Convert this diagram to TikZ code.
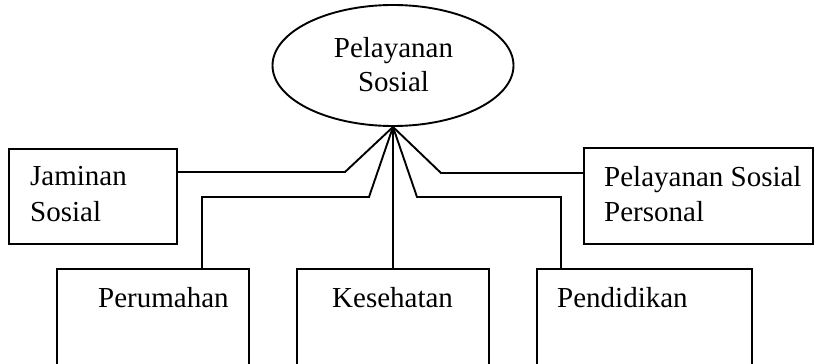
\documentclass[tikz,border=0pt]{standalone}
\usepackage{fontspec}
\setmainfont{Liberation Serif}
\usetikzlibrary{shapes.geometric}
\begin{document}
\begin{tikzpicture}[x=1pt,y=-1pt,
  lw/.style={line width=1.9pt},
  boxnode/.style={draw,lw,rectangle,inner sep=0pt},
  txt/.style={inner sep=0pt,anchor=base west,align=left,font=\fontsize{29}{35}\selectfont},
  conn/.style={draw,lw,line join=miter}]
\useasboundingbox (0,0) rectangle (815,364);
\clip (0,0) rectangle (815,364);
% main ellipse
\node[ellipse,draw,lw,inner sep=0pt,minimum width=241pt,minimum height=121pt] (ps) at (393,65.5) {};
\node[txt,anchor=base,align=center,font=\fontsize{29}{34}\selectfont] (pst) at (393.5,91) {Pelayanan\\Sosial};
% boxes
\node[boxnode,minimum width=168pt,minimum height=95pt] (jam) at (93,196.5) {};
\node[boxnode,minimum width=229pt,minimum height=96pt] (psp) at (698.5,196) {};
\node[boxnode,minimum width=192pt,minimum height=131pt] (per) at (153,334.5) {};
\node[boxnode,minimum width=192pt,minimum height=131pt] (kes) at (393,334.5) {};
\node[boxnode,minimum width=215pt,minimum height=131pt] (pen) at (644.5,334.5) {};
% texts
\node[txt,font=\fontsize{29}{36}\selectfont] (jamt) at (30,221) {Jaminan\\Sosial};
\node[txt] (pspt) at (604,221) {Pelayanan Sosial\\Personal};
\node[txt] (pert) at (98,307) {Perumahan};
\node[txt] (kest) at (332,307) {Kesehatan};
\node[txt] (pent) at (557,307) {Pendidikan};
% bend coordinates
\coordinate (j1) at (345,172);
\coordinate (p1) at (369,197);
\coordinate (p2) at (202,197);
\coordinate (s1) at (441,173);
\coordinate (d1) at (417,197);
\coordinate (d2) at (561,197);
% connectors
\draw[conn] (ps.south) -- (j1) -- (j1 -| jam.east);
\draw[conn] (ps.south) -- (p1) -- (p2) -- (p2 |- per.north);
\draw[conn] (ps.south) -- (kes.north);
\draw[conn] (ps.south) -- (d1) -- (d2) -- (d2 |- pen.north);
\draw[conn] (ps.south) -- (s1) -- (s1 -| psp.west);
\end{tikzpicture}
\end{document}
